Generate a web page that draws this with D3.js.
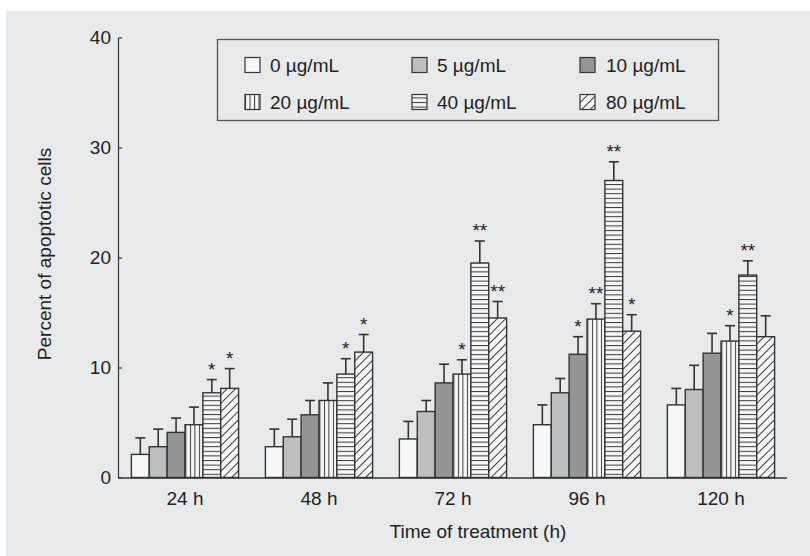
<!DOCTYPE html>
<html>
<head>
<meta charset="utf-8">
<script src="https://cdn.jsdelivr.net/npm/d3@7"></script>
<style>
  body { margin: 0; background: #fff; }
  svg { display: block; font-family: "Liberation Sans", Arial, sans-serif; }
</style>
</head>
<body>
<div id="chart"></div>
<script>
// data
var times = ["24 h", "48 h", "72 h", "96 h", "120 h"];
var doses = ["0 µg/mL", "5 µg/mL", "10 µg/mL", "20 µg/mL", "40 µg/mL", "80 µg/mL"];

var mean0  = [2.1, 2.8, 3.5, 4.8, 6.6];
var mean5  = [2.8, 3.7, 6.0, 7.7, 8.0];
var mean10 = [4.1, 5.7, 8.6, 11.2, 11.3];
var mean20 = [4.8, 7.0, 9.4, 14.4, 12.4];
var mean40 = [7.7, 9.4, 19.5, 27.0, 18.4];
var mean80 = [8.1, 11.4, 14.5, 13.3, 12.8];

var err0  = [1.5, 1.6, 1.6, 1.8, 1.5];
var err5  = [1.6, 1.6, 1.0, 1.3, 2.2];
var err10 = [1.3, 1.3, 1.7, 1.6, 1.8];
var err20 = [1.6, 1.6, 1.3, 1.4, 1.4];
var err40 = [1.2, 1.4, 2.0, 1.7, 1.3];
var err80 = [1.8, 1.6, 1.5, 1.5, 1.9];

var sig0  = ["", "", "", "", ""];
var sig5  = ["", "", "", "", ""];
var sig10 = ["", "", "", "*", ""];
var sig20 = ["", "", "*", "**", "*"];
var sig40 = ["*", "*", "**", "**", "**"];
var sig80 = ["*", "*", "**", "*", ""];

var yTicks = [0, 10, 20, 30, 40];

var means = [mean0, mean5, mean10, mean20, mean40, mean80];
var errs = [err0, err5, err10, err20, err40, err80];
var sigs = [sig0, sig5, sig10, sig20, sig40, sig80];

var width = 810, height = 556;

var svg = d3.select("#chart").append("svg")
	.attr("width", width)
	.attr("height", height);

// grey panel
svg.append("rect")
	.attr("x", 6).attr("y", 11)
	.attr("width", width - 6).attr("height", height - 11)
	.attr("fill", "#e8e9eb");

// fill patterns
var defs = svg.append("defs");

var pv = defs.append("pattern").attr("id", "vert")
	.attr("patternUnits", "userSpaceOnUse").attr("width", 4.5).attr("height", 10);
pv.append("rect").attr("width", 4.5).attr("height", 10).attr("fill", "#f6f6f6");
pv.append("line").attr("x1", 0.5).attr("x2", 0.5).attr("y1", 0).attr("y2", 10)
	.attr("stroke", "#3a3a3a").attr("stroke-width", 1);

var ph = defs.append("pattern").attr("id", "horiz")
	.attr("patternUnits", "userSpaceOnUse").attr("width", 10).attr("height", 4.6);
ph.append("rect").attr("width", 10).attr("height", 4.6).attr("fill", "#f6f6f6");
ph.append("line").attr("x1", 0).attr("x2", 10).attr("y1", 0.5).attr("y2", 0.5)
	.attr("stroke", "#3a3a3a").attr("stroke-width", 1);

var pd = defs.append("pattern").attr("id", "diag")
	.attr("patternUnits", "userSpaceOnUse").attr("width", 6).attr("height", 10)
	.attr("patternTransform", "rotate(45)");
pd.append("rect").attr("width", 6).attr("height", 10).attr("fill", "#f6f6f6");
pd.append("line").attr("x1", 0.5).attr("x2", 0.5).attr("y1", 0).attr("y2", 10)
	.attr("stroke", "#3a3a3a").attr("stroke-width", 1);

var fills = ["#f7f7f7", "#bdbebf", "#959596", "url(#vert)", "url(#horiz)", "url(#diag)"];

// scales
var x0 = d3.scaleBand()
	.domain(times)
	.range([118, 788])
	.paddingInner(0.2)
	.paddingOuter(0.1);

var x1 = d3.scaleBand()
	.domain(doses)
	.range([0, x0.bandwidth()]);

var y = d3.scaleLinear()
	.domain([0, 40])
	.range([477.5, 37.5]);

// bars
var groups = svg.selectAll("g.group")
	.data(times)
	.enter()
	.append("g")
		.attr("class", "group")
		.attr("transform", function(d){ return "translate(" + x0(d) + ",0)"; });

groups.each(function(t, ti){
	var g = d3.select(this);
	var rows = doses.map(function(dose, di){
		return { dose: dose, di: di, v: means[di][ti], e: errs[di][ti], s: sigs[di][ti] };
	});

	// error bars (drawn first so the bar edge covers the stem base)
	g.selectAll("line.stem")
		.data(rows)
		.enter()
		.append("line")
			.attr("x1", function(d){ return x1(d.dose) + x1.bandwidth() / 2; })
			.attr("x2", function(d){ return x1(d.dose) + x1.bandwidth() / 2; })
			.attr("y1", function(d){ return y(d.v); })
			.attr("y2", function(d){ return y(d.v + d.e); })
			.attr("stroke", "#333").attr("stroke-width", 1.6);

	g.selectAll("line.cap")
		.data(rows)
		.enter()
		.append("line")
			.attr("x1", function(d){ return x1(d.dose) + x1.bandwidth() / 2 - 5; })
			.attr("x2", function(d){ return x1(d.dose) + x1.bandwidth() / 2 + 5; })
			.attr("y1", function(d){ return y(d.v + d.e); })
			.attr("y2", function(d){ return y(d.v + d.e); })
			.attr("stroke", "#333").attr("stroke-width", 1.6);

	g.selectAll("rect")
		.data(rows)
		.enter()
		.append("rect")
			.attr("x", function(d){ return x1(d.dose); })
			.attr("width", x1.bandwidth())
			.attr("y", function(d){ return y(d.v); })
			.attr("height", function(d){ return y(0) - y(d.v); })
			.attr("fill", function(d){ return fills[d.di]; })
			.attr("stroke", "#333")
			.attr("stroke-width", 1.4);

	g.selectAll("text.sig")
		.data(rows.filter(function(d){ return d.s !== ""; }))
		.enter()
		.append("text")
			.attr("x", function(d){ return x1(d.dose) + x1.bandwidth() / 2; })
			.attr("y", function(d){ return y(d.v + d.e) - 4; })
			.attr("text-anchor", "middle")
			.attr("font-size", 19)
			.attr("fill", "#222")
			.text(function(d){ return d.s; });
});

// y axis
var yAxis = d3.axisLeft(y)
	.tickValues(yTicks)
	.tickSizeInner(-4)
	.tickSizeOuter(0)
	.tickPadding(7);

var gy = svg.append("g")
	.attr("transform", "translate(118,0)")
	.call(yAxis);
gy.selectAll("text").attr("font-size", 19).attr("fill", "#222").attr("font-family", null);
gy.selectAll("line, path").attr("stroke", "#333").attr("stroke-width", 1.2);

// x axis (baseline)
var xAxis = d3.axisBottom(x0)
	.tickSize(0)
	.tickPadding(14);

var gx = svg.append("g")
	.attr("transform", "translate(0," + y(0) + ")")
	.call(xAxis);
gx.select("path").attr("d", "M118,0.5H787").attr("stroke", "#333").attr("stroke-width", 1.6);
gx.selectAll("text").attr("font-size", 19).attr("fill", "#222").attr("font-family", null);

// axis titles
svg.append("text")
	.attr("transform", "translate(51,254) rotate(-90)")
	.attr("text-anchor", "middle")
	.attr("font-size", 19)
	.attr("fill", "#222")
	.text("Percent of apoptotic cells");

svg.append("text")
	.attr("x", 478).attr("y", 538)
	.attr("text-anchor", "middle")
	.attr("font-size", 19)
	.attr("fill", "#222")
	.text("Time of treatment (h)");

// legend
var legend = svg.append("g");
legend.append("rect")
	.attr("x", 217.5).attr("y", 39.5)
	.attr("width", 501).attr("height", 81)
	.attr("fill", "none")
	.attr("stroke", "#555")
	.attr("stroke-width", 1.3);

var legX = [245, 412, 580];
var legTextX = [270, 437, 606];
var legY = [65, 102];

var items = legend.selectAll("g.item")
	.data(doses)
	.enter()
	.append("g")
		.attr("class", "item")
		.attr("transform", function(d, i){
			return "translate(" + legX[i % 3] + "," + legY[Math.floor(i / 3)] + ")";
		});

items.append("rect")
	.attr("x", 0).attr("y", -7.5)
	.attr("width", 15).attr("height", 15)
	.attr("fill", function(d, i){ return fills[i]; })
	.attr("stroke", "#333")
	.attr("stroke-width", 1.2);

items.append("text")
	.attr("x", function(d, i){ return legTextX[i % 3] - legX[i % 3]; })
	.attr("y", 0)
	.attr("dy", "0.35em")
	.attr("font-size", 19)
	.attr("fill", "#222")
	.text(function(d){ return d; });
</script>
</body>
</html>
